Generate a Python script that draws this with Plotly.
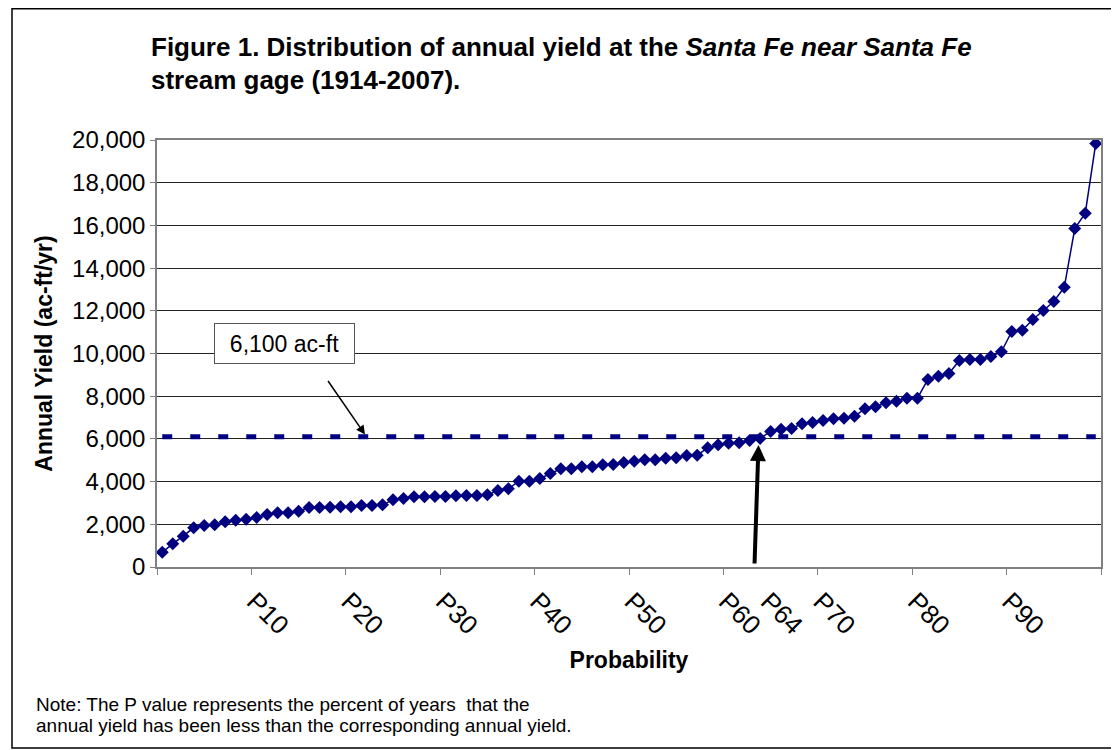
import plotly.graph_objects as go

# ---- data ----
categories = list(range(1, 91))  # 90 ranked years
annual_yield = [693, 1087, 1443, 1836, 1944, 1975, 2117, 2192, 2239, 2318,
                2459, 2539, 2539, 2614, 2787, 2787, 2801, 2820, 2820, 2881,
                2881, 2912, 3150, 3209, 3287, 3287, 3302, 3302, 3334, 3349,
                3349, 3380, 3583, 3661, 4020, 4020, 4145, 4380, 4598, 4598,
                4692, 4692, 4786, 4801, 4890, 4950, 5020, 5020, 5098, 5113,
                5223, 5238, 5582, 5723, 5801, 5817, 5926, 6020, 6348, 6457,
                6488, 6707, 6770, 6863, 6941, 6972, 7057, 7418, 7504, 7691,
                7766, 7907, 7907, 8782, 8937, 9064, 9673, 9719, 9719, 9860,
                10080, 11031, 11092, 11593, 12014, 12436, 13106, 15855, 16572, 19837]
threshold_value = 6100
threshold = [threshold_value] * len(categories)
label_cats = [9, 18, 27, 36, 45, 54, 58, 63, 72, 81]
label_text = ["P10", "P20", "P30", "P40", "P50", "P60", "P64", "P70", "P80", "P90"]
tick_cats = [0.5 + 9 * k for k in range(11)]
y_ticks = list(range(0, 20001, 2000))

FONT = "Liberation Sans, Arial, sans-serif"
NAVY = "#000080"
LABEL_SHIFT = 0.8  # rotated labels sit slightly right of their category centre

fig = go.Figure()
fig.add_trace(go.Scatter(
    x=categories, y=threshold, mode="lines",
    line=dict(color=NAVY, width=5, dash="10px,18px"),
    hoverinfo="skip", showlegend=False))
fig.add_trace(go.Scatter(
    x=categories, y=annual_yield, mode="lines+markers",
    line=dict(color=NAVY, width=1.5),
    marker=dict(symbol="diamond", size=10, color=NAVY),
    showlegend=False))
# invisible carrier for the label axis
fig.add_trace(go.Scatter(x=[label_cats[0]], y=[None], xaxis="x2",
                         hoverinfo="skip", showlegend=False))

# page has an 8px body margin; work in reference-pixel coordinates and shift
OFF = 8
W, H = 1119 - OFF, 750 - OFF
L, R, T, B = 157 - OFF, 1119 - 1101, 140 - OFF, 750 - 567
pw, ph = W - L - R, H - T - B


def px(x):
    return (x - OFF - L) / pw


def py(y):
    return (H - B - (y - OFF)) / ph


fig.update_layout(
    width=W, height=H,
    margin=dict(l=L, r=R, t=T, b=B),
    paper_bgcolor="white", plot_bgcolor="white",
    font=dict(family=FONT, color="black"),
    xaxis=dict(range=[0.5, 90.5], tickvals=tick_cats, ticktext=[""] * len(tick_cats),
               ticks="outside", ticklen=6, tickcolor="#808080",
               showgrid=False, zeroline=False, showline=True, linecolor="#808080",
               linewidth=1.5, mirror=True),
    xaxis2=dict(range=[0.5 - LABEL_SHIFT, 90.5 - LABEL_SHIFT], overlaying="x",
                side="bottom", anchor="y", tickvals=label_cats, ticktext=label_text,
                tickangle=45, ticks="", showgrid=False, zeroline=False,
                showline=False, tickfont=dict(size=26), ticklabelstandoff=13,
                title=dict(text="<b>Probability</b>", font=dict(size=23), standoff=12)),
    yaxis=dict(range=[0, 20000], tickvals=y_ticks, tickformat=",d",
               ticks="outside", ticklen=5, tickcolor="#808080",
               showgrid=True, gridcolor="#222222", gridwidth=1,
               zeroline=False, showline=True, linecolor="#808080", linewidth=1.5,
               mirror=True, tickfont=dict(size=24),
               title=dict(text="<b>Annual Yield (ac-ft/yr)</b>", font=dict(size=23),
                          standoff=13)),
)

# outer chart border
fig.add_shape(type="rect", xref="paper", yref="paper",
              x0=px(12), x1=px(1114), y0=py(748), y1=py(8.8),
              line=dict(color="black", width=1.5), fillcolor="rgba(0,0,0,0)")

# title
fig.add_annotation(xref="paper", yref="paper", x=px(149), y=py(47),
                   xanchor="left", yanchor="middle", showarrow=False,
                   text="<b>Figure 1. Distribution of annual yield at the <i>Santa Fe near Santa Fe</i></b>",
                   font=dict(size=26))
fig.add_annotation(xref="paper", yref="paper", x=px(149), y=py(80),
                   xanchor="left", yanchor="middle", showarrow=False,
                   text="<b>stream gage (1914-2007).</b>", font=dict(size=26))

# note
fig.add_annotation(xref="paper", yref="paper", x=px(34), y=py(704),
                   xanchor="left", yanchor="middle", showarrow=False,
                   text="Note: The P value represents the percent of years  that the",
                   font=dict(size=19))
fig.add_annotation(xref="paper", yref="paper", x=px(34), y=py(725),
                   xanchor="left", yanchor="middle", showarrow=False,
                   text="annual yield has been less than the corresponding annual yield.",
                   font=dict(size=19))

# 6,100 label box
fig.add_annotation(xref="paper", yref="paper", x=px(284.5), y=py(343.5),
                   xanchor="center", yanchor="middle", showarrow=False,
                   text="6,100 ac-ft", font=dict(size=23),
                   width=137, height=37, bgcolor="white",
                   bordercolor="#555555", borderwidth=1)

# arrow to dashed line
fig.add_annotation(xref="paper", yref="paper", x=px(365), y=py(434.5),
                   ax=-38, ay=-55, showarrow=True, text="",
                   arrowhead=2, arrowsize=1.2, arrowwidth=1.5, arrowcolor="black")
# arrow to crossing point
fig.add_annotation(xref="paper", yref="paper", x=px(758.5), y=py(445),
                   ax=-4, ay=120, showarrow=True, text="",
                   arrowhead=2, arrowsize=0.8, arrowwidth=4, arrowcolor="black")

fig.write_html("out.html")
